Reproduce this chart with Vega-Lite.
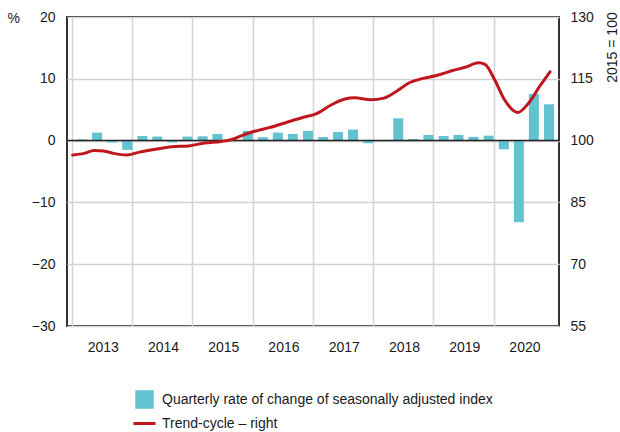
{
  "$schema": "https://vega.github.io/schema/vega-lite/v6.json",
  "width": 492,
  "height": 309,
  "autosize": "none",
  "padding": {"left": 67, "top": 17, "right": 61, "bottom": 106},
  "background": "white",
  "config": {
    "view": {"stroke": "#333333", "strokeWidth": 2},
    "font": "Liberation Sans",
    "axis": {
      "labelFont": "Liberation Sans",
      "labelFontSize": 14,
      "labelColor": "#1a1a1a",
      "titleFont": "Liberation Sans",
      "titleFontWeight": "normal",
      "titleColor": "#1a1a1a",
      "domain": false,
      "ticks": false,
      "gridColor": "#d3d3d3",
      "gridWidth": 1.5
    }
  },
  "datasets": {
    "bars": [
      {"date": "2013-01-01", "rate": 0.2},
      {"date": "2013-04-01", "rate": 1.3},
      {"date": "2013-07-01", "rate": -0.3},
      {"date": "2013-10-01", "rate": -1.5},
      {"date": "2014-01-01", "rate": 0.75},
      {"date": "2014-04-01", "rate": 0.65},
      {"date": "2014-07-01", "rate": -0.3},
      {"date": "2014-10-01", "rate": 0.65},
      {"date": "2015-01-01", "rate": 0.7},
      {"date": "2015-04-01", "rate": 1.08},
      {"date": "2015-07-01", "rate": 0.1},
      {"date": "2015-10-01", "rate": 1.56},
      {"date": "2016-01-01", "rate": 0.54},
      {"date": "2016-04-01", "rate": 1.3},
      {"date": "2016-07-01", "rate": 1.08},
      {"date": "2016-10-01", "rate": 1.56},
      {"date": "2017-01-01", "rate": 0.6},
      {"date": "2017-04-01", "rate": 1.4},
      {"date": "2017-07-01", "rate": 1.78},
      {"date": "2017-10-01", "rate": -0.43},
      {"date": "2018-01-01", "rate": -0.1},
      {"date": "2018-04-01", "rate": 3.6},
      {"date": "2018-07-01", "rate": 0.27},
      {"date": "2018-10-01", "rate": 0.92},
      {"date": "2019-01-01", "rate": 0.75},
      {"date": "2019-04-01", "rate": 0.92},
      {"date": "2019-07-01", "rate": 0.6},
      {"date": "2019-10-01", "rate": 0.8},
      {"date": "2020-01-01", "rate": -1.4},
      {"date": "2020-04-01", "rate": -13.2},
      {"date": "2020-07-01", "rate": 7.55},
      {"date": "2020-10-01", "rate": 5.88}
    ],
    "trend": [
      {"date": "2013-01-05", "index": 96.5},
      {"date": "2013-03-15", "index": 96.9},
      {"date": "2013-05-15", "index": 97.6},
      {"date": "2013-07-12", "index": 97.5},
      {"date": "2013-09-10", "index": 96.9},
      {"date": "2013-11-27", "index": 96.5},
      {"date": "2014-02-14", "index": 97.2},
      {"date": "2014-05-22", "index": 97.9},
      {"date": "2014-08-29", "index": 98.5},
      {"date": "2014-12-08", "index": 98.7},
      {"date": "2015-03-15", "index": 99.4},
      {"date": "2015-06-24", "index": 99.8},
      {"date": "2015-08-22", "index": 100.2},
      {"date": "2015-10-20", "index": 101.1},
      {"date": "2016-01-08", "index": 102.2},
      {"date": "2016-04-16", "index": 103.2},
      {"date": "2016-07-23", "index": 104.4},
      {"date": "2016-10-30", "index": 105.6},
      {"date": "2017-01-19", "index": 106.5},
      {"date": "2017-04-23", "index": 108.7},
      {"date": "2017-07-13", "index": 110.1},
      {"date": "2017-09-10", "index": 110.4},
      {"date": "2017-12-16", "index": 109.9},
      {"date": "2018-03-07", "index": 110.3},
      {"date": "2018-05-27", "index": 112.1},
      {"date": "2018-08-11", "index": 114.1},
      {"date": "2018-10-31", "index": 115.1},
      {"date": "2019-01-19", "index": 115.8},
      {"date": "2019-04-27", "index": 117.0},
      {"date": "2019-07-13", "index": 117.8},
      {"date": "2019-10-01", "index": 118.9},
      {"date": "2019-11-10", "index": 118.5},
      {"date": "2020-01-08", "index": 114.7},
      {"date": "2020-03-07", "index": 109.9},
      {"date": "2020-05-27", "index": 106.8},
      {"date": "2020-07-23", "index": 108.7},
      {"date": "2020-10-12", "index": 113.5},
      {"date": "2020-12-08", "index": 116.7}
    ]
  },
  "layer": [
    {
      "layer": [
        {
          "data": {"name": "bars"},
          "mark": {"type": "bar", "width": 10, "xOffset": 10.2},
          "encoding": {
            "x": {
              "field": "date",
              "type": "temporal",
              "scale": {"type": "utc", "domain": ["2013-01-01", "2021-01-01"]},
              "axis": {
                "title": null,
                "values": ["2013-01-01", "2014-01-01", "2015-01-01", "2016-01-01", "2017-01-01", "2018-01-01", "2019-01-01", "2020-01-01"],
                "labelExpr": "utcFormat(datum.value, '%Y')",
                "labelOffset": 30.8,
                "labelPadding": 14,
                "grid": true
              }
            },
            "y": {
              "field": "rate",
              "type": "quantitative",
              "scale": {"domain": [-30, 20], "nice": false, "zero": false},
              "axis": {
                "title": "%",
                "values": [-30, -20, -10, 0, 10, 20],
                "labelPadding": 12,
                "titleAngle": 0,
                "titleX": -60,
                "titleY": 1,
                "titleAlign": "left",
                "titleBaseline": "middle",
                "titleFontSize": 14,
                "grid": true
              }
            },
            "color": {
              "datum": "Quarterly rate of change of seasonally adjusted index",
              "scale": {
                "domain": ["Quarterly rate of change of seasonally adjusted index", "Trend-cycle – right"],
                "range": ["#62C2D0", "#C0171E"]
              },
              "legend": {
                "orient": "none",
                "legendX": 68,
                "legendY": 373,
                "direction": "vertical",
                "title": null,
                "labelFont": "Liberation Sans",
                "labelFontSize": 14,
                "labelColor": "#1a1a1a",
                "labelLimit": 500,
                "rowPadding": 0,
                "labelOffset": 8,
                "symbolSize": 240,
                "symbolStrokeWidth": 3,
                "encode": {
                  "symbols": {
                    "update": {
                      "shape": {"signal": "datum.value === 'Trend-cycle – right' ? 'stroke' : 'square'"},
                      "size": {"signal": "datum.value === 'Trend-cycle – right' ? 484 : 240"},
                      "fill": {"signal": "datum.value === 'Trend-cycle – right' ? 'transparent' : '#62C2D0'"},
                      "stroke": {"signal": "datum.value === 'Trend-cycle – right' ? '#C0171E' : 'transparent'"},
                      "strokeWidth": {"value": 3},
                      "opacity": {"value": 1}
                    }
                  }
                }
              }
            }
          }
        },
        {
          "data": {"values": [{}]},
          "mark": {"type": "rule", "color": "#222222", "strokeWidth": 1.5},
          "encoding": {"y": {"datum": 0}}
        }
      ]
    },
    {
      "data": {"name": "trend"},
      "mark": {"type": "line", "interpolate": "monotone", "strokeWidth": 3, "strokeCap": "round"},
      "encoding": {
        "x": {"field": "date", "type": "temporal", "scale": {"type": "utc"}},
        "y": {
          "field": "index",
          "type": "quantitative",
          "scale": {"domain": [55, 130], "nice": false, "zero": false},
          "axis": {
            "orient": "right",
            "title": "2015 = 100",
            "values": [55, 70, 85, 100, 115, 130],
            "labelPadding": 11,
            "grid": false,
            "titleAngle": 270,
            "titleX": 53,
            "titleY": 30,
            "titleAlign": "center",
            "titleBaseline": "middle",
            "titleFontSize": 14
          }
        },
        "color": {"datum": "Trend-cycle – right"}
      }
    }
  ],
  "resolve": {"scale": {"y": "independent"}}
}
